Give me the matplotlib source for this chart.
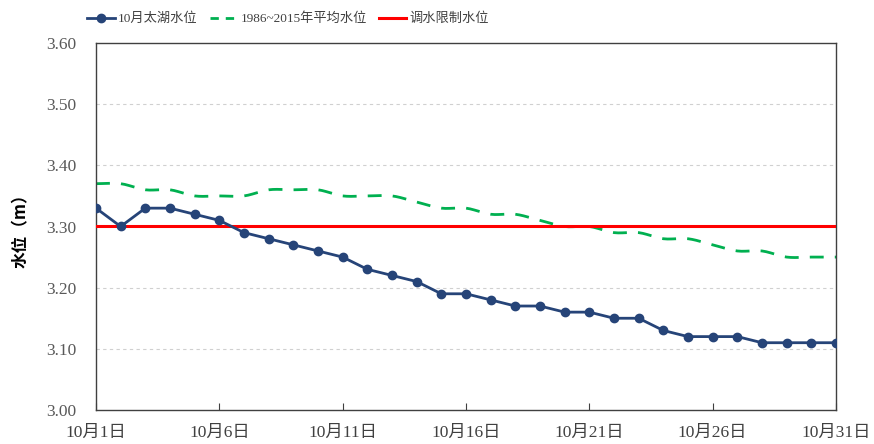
import numpy as np
import matplotlib
matplotlib.use("Agg")
import matplotlib.pyplot as plt
from matplotlib.lines import Line2D

plt.rcParams['font.family'] = ['Liberation Serif', 'Noto Sans CJK SC']

days = list(range(1, 32))
level_oct = [3.33, 3.30, 3.33, 3.33, 3.32, 3.31, 3.29, 3.28, 3.27, 3.26,
             3.25, 3.23, 3.22, 3.21, 3.19, 3.19, 3.18, 3.17, 3.17, 3.16,
             3.16, 3.15, 3.15, 3.13, 3.12, 3.12, 3.12, 3.11, 3.11, 3.11, 3.11]
level_avg = [3.37, 3.37, 3.36, 3.36, 3.35, 3.35, 3.35, 3.36, 3.36, 3.36,
             3.35, 3.35, 3.35, 3.34, 3.33, 3.33, 3.32, 3.32, 3.31, 3.30,
             3.30, 3.29, 3.29, 3.28, 3.28, 3.27, 3.26, 3.26, 3.25, 3.25, 3.25]
limit_level = 3.30
xtick_days = [1, 6, 11, 16, 21, 26, 31]
xtick_labels = ['10月1日', '10月6日', '10月11日', '10月16日', '10月21日', '10月26日', '10月31日']
yticks = [3.00, 3.10, 3.20, 3.30, 3.40, 3.50, 3.60]
legend_labels = ['10月太湖水位', '1986~2015年平均水位', '调水限制水位']


def smooth(x, y, n=12):
    # Catmull-Rom curve through the data points (display smoothing only)
    x = np.asarray(x, float)
    y = np.asarray(y, float)
    px = np.concatenate([[2 * x[0] - x[1]], x, [2 * x[-1] - x[-2]]])
    py = np.concatenate([[2 * y[0] - y[1]], y, [2 * y[-1] - y[-2]]])
    xs, ys = [], []
    t = np.linspace(0, 1, n, endpoint=False)
    for i in range(1, len(px) - 2):
        for arr, out in ((px, xs), (py, ys)):
            p0, p1, p2, p3 = arr[i - 1], arr[i], arr[i + 1], arr[i + 2]
            out.extend(0.5 * ((2 * p1) + (-p0 + p2) * t +
                              (2 * p0 - 5 * p1 + 4 * p2 - p3) * t ** 2 +
                              (-p0 + 3 * p1 - 3 * p2 + p3) * t ** 3))
    xs.append(x[-1])
    ys.append(y[-1])
    return np.array(xs), np.array(ys)


fig = plt.figure(figsize=(8.74, 4.44), dpi=100)
ax = fig.add_axes([96 / 874, 34 / 444, 740 / 874, 367 / 444])

blue = '#264478'
green = '#00B050'
red = '#FF0000'

for yv in yticks[1:-1]:
    ax.axhline(yv, color='#D0D0D0', lw=0.8, ls=(0, (3, 3)), zorder=0)

sx, sy = smooth(days, level_avg)
ax.plot(sx, sy, color=green, lw=2.0, ls=(0, (5, 4)), zorder=2)
ax.axhline(limit_level, color=red, lw=2.2, zorder=3)
ax.plot(days, level_oct, color=blue, lw=2.0, marker='o', ms=6, zorder=4)

ax.set_xlim(1, 31)
ax.set_ylim(3.0, 3.6)
ax.set_xticks(xtick_days)
ax.set_xticklabels(xtick_labels)
ax.set_yticks(yticks)
ax.set_yticklabels([f'{v:.2f}' for v in yticks])
ax.tick_params(axis='x', direction='in', length=5, width=0.8, color='#404040',
               labelsize=12.5, labelcolor='#404040', pad=11)
ax.tick_params(axis='y', length=0, labelsize=12.5, labelcolor='#595959', pad=14)
for s in ax.spines.values():
    s.set_color('#404040')
    s.set_linewidth(1.0)

ax.set_ylabel('水位（m）', fontsize=12, fontweight='bold', labelpad=12,
              color='black', family=['Noto Sans CJK SC', 'Liberation Serif'])

handles = [Line2D([], [], color=blue, lw=2.0, marker='o', ms=6),
           Line2D([], [], color=green, lw=2.0, ls=(0, (3, 2.5))),
           Line2D([], [], color=red, lw=2.2)]
leg = fig.legend(handles, legend_labels, loc='center left', ncol=3,
                 bbox_to_anchor=(87 / 874, 1 - 19 / 444), frameon=False,
                 fontsize=9.5, handlelength=2.1, columnspacing=0.9,
                 handletextpad=0.25, borderpad=0, borderaxespad=0)
for t in leg.get_texts():
    t.set_color('#404040')

fig.savefig('out.png', dpi=100)
